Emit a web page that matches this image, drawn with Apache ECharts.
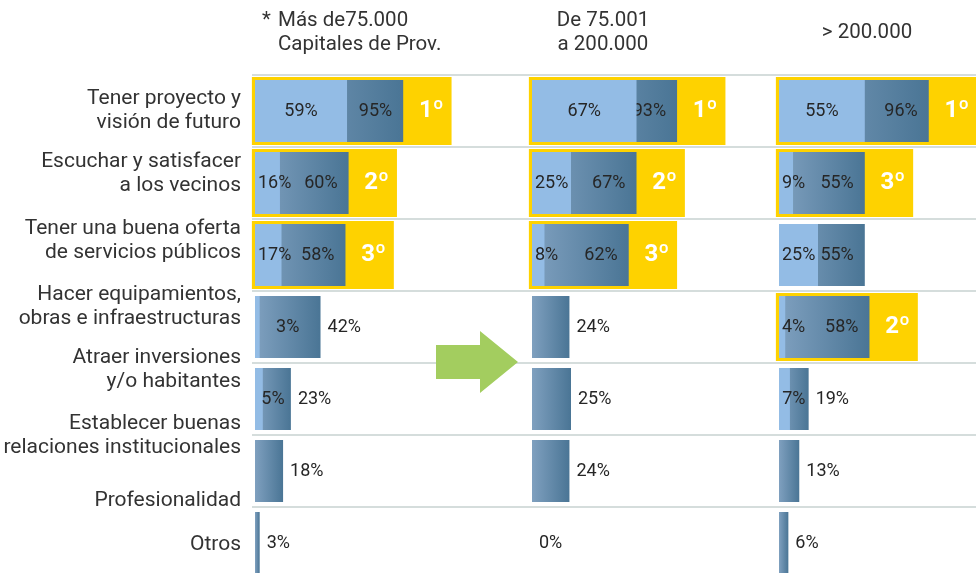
<!DOCTYPE html>
<html>
<head>
<meta charset="utf-8">
<script src="https://cdn.jsdelivr.net/npm/echarts@6/dist/echarts.min.js"></script>
<style>
  html, body { margin: 0; padding: 0; background: #fff; overflow: hidden; }
  #main { width: 976px; height: 584px; }
</style>
</head>
<body>
<div id="main"></div>
<script>
// textos de la izquierda (8 textos para 7 filas de barras, como en el original)
const categories = [
  'Tener proyecto y\nvisión de futuro',
  'Escuchar y satisfacer\na los vecinos',
  'Tener una buena oferta\nde servicios públicos',
  'Hacer equipamientos,\nobras e infraestructuras',
  'Atraer inversiones\ny/o habitantes',
  'Establecer buenas\nrelaciones institucionales',
  'Profesionalidad',
  'Otros'
]
const headers = ['Más de75.000\nCapitales de Prov.', 'De 75.001\na 200.000', '> 200.000']

// barra clara (null = no hay)
const light1 = [59, 16, 17, 3, 5, null, null]
const light2 = [67, 25, 8, null, null, null, null]
const light3 = [55, 9, 25, 4, 7, null, null]
// barra oscura
const dark1 = [95, 60, 58, 42, 23, 18, 3]
const dark2 = [93, 67, 62, 24, 25, 24, 0]
const dark3 = [96, 55, 55, 58, 19, 13, 6]
// puesto
const rank1 = [1, 2, 3, null, null, null, null]
const rank2 = [1, 2, 3, null, null, null, null]
const rank3 = [1, 3, null, 2, null, null, null]

// maquetacion
const panelLeft = [255, 532, 779]
const labelY = [111, 174, 241, 307, 370, 436, 501, 545]
const FONT = 'Roboto'

var chartDom = document.getElementById('main')
var myChart = echarts.init(chartDom)

const rows = dark1.map((v, i) => String(i))

function yellowSeries(p, dark, rank) {
  const data = []
  rank.forEach((r, i) => { if (r) data.push([i, dark[i], r]) })
  return {
    type: 'custom',
    xAxisIndex: p,
    yAxisIndex: p,
    z: 1,
    silent: true,
    clip: false,
    encode: { x: 1, y: 0 },
    data: data,
    renderItem: function(params, api) {
      const row = api.value(0)
      const d = api.value(1)
      const a = api.coord([-2, row])
      const b = api.coord([d + 31, row])
      const t = api.coord([d + 18, row])
      const h = api.size([0, 1])[1] * 68 / 72
      return {
        type: 'group',
        children: [
          {
            type: 'rect',
            shape: { x: a[0], y: a[1] - h / 2, width: b[0] - a[0], height: h },
            style: { fill: '#fed200' }
          },
          {
            type: 'text',
            style: {
              text: api.value(2) + 'º',
              x: t[0],
              y: t[1],
              fill: '#fff',
              font: 'bold 24px ' + FONT,
              align: 'center',
              verticalAlign: 'middle'
            }
          }
        ]
      }
    }
  }
}

function darkSeries(p, dark) {
  return {
    type: 'bar',
    xAxisIndex: p,
    yAxisIndex: p,
    z: 2,
    barWidth: 62,
    silent: true,
    itemStyle: {
      color: new echarts.graphic.LinearGradient(0, 0, 1, 0, [
        { offset: 0, color: '#7fa0bf' },
        { offset: 1, color: '#4a7595' }
      ])
    },
    label: { show: true, formatter: '{c}%', color: '#262626', fontSize: 18, fontFamily: FONT },
    data: dark.map(v => {
      const inside = v >= 50
      return { value: v, label: { position: inside ? 'insideRight' : 'right', distance: inside ? 11 : 7 } }
    })
  }
}

function lightSeries(p, light, dark) {
  return {
    type: 'bar',
    xAxisIndex: p,
    yAxisIndex: p,
    z: 3,
    barWidth: 62,
    barGap: '-100%',
    silent: true,
    itemStyle: { color: '#93bce5' },
    label: { show: true, formatter: '{c}%', color: '#262626', fontSize: 18, fontFamily: FONT },
    data: light.map((v, i) => {
      if (v == null) return { value: '-', label: { show: false } }
      let lab
      if (v >= 40) lab = { position: 'inside' }
      else if (dark[i] < 50) lab = { position: [(dark[i] / v * 50) + '%', '50%'], align: 'center', verticalAlign: 'middle' }
      else lab = { position: 'insideLeft', distance: 3 }
      return { value: v, label: lab }
    })
  }
}

const grids = panelLeft.map(l => ({ left: l, top: 75, width: 156, height: 504 }))
grids.push({ left: 252, right: 0, top: 75, height: 504 })

const xAxes = [0, 1, 2].map(p => ({ gridIndex: p, type: 'value', min: 0, max: 100, show: false }))
xAxes.push({ gridIndex: 3, type: 'value', min: 0, max: 1, show: false })

const yAxes = [0, 1, 2].map(p => ({ gridIndex: p, type: 'category', data: rows, inverse: true, show: false }))
yAxes.push({
  gridIndex: 3,
  type: 'category',
  data: rows,
  inverse: true,
  axisLine: { show: false },
  axisTick: { show: false },
  axisLabel: { show: false },
  splitLine: { show: true, lineStyle: { color: '#d5dddc', width: 2 } }
})

const graphics = categories.map((c, i) => ({
  type: 'text',
  x: 241,
  y: labelY[i],
  style: {
    text: c,
    font: '21px ' + FONT,
    fill: '#333',
    align: 'right',
    verticalAlign: 'middle',
    lineHeight: 24
  }
}))
const headFont = '20.5px ' + FONT
graphics.push(
  { type: 'text', x: 262, y: 21, style: { text: '*', font: headFont, fill: '#333', align: 'left', verticalAlign: 'middle' } },
  { type: 'text', x: 278, y: 33, style: { text: headers[0], font: headFont, fill: '#333', align: 'left', verticalAlign: 'middle', lineHeight: 24 } },
  { type: 'text', x: 603, y: 33, style: { text: headers[1], font: headFont, fill: '#333', align: 'center', verticalAlign: 'middle', lineHeight: 24 } },
  { type: 'text', x: 867, y: 33, style: { text: headers[2], font: headFont, fill: '#333', align: 'center', verticalAlign: 'middle', lineHeight: 24 } },
  {
    type: 'polygon',
    z: 100,
    shape: { points: [[436, 345], [480, 345], [480, 331], [518, 362], [480, 393], [480, 379], [436, 379]] },
    style: { fill: '#a3cd5f' }
  }
)

var option = {
  animation: false,
  textStyle: { fontFamily: FONT },
  grid: grids,
  xAxis: xAxes,
  yAxis: yAxes,
  graphic: graphics,
  series: [
    yellowSeries(0, dark1, rank1), darkSeries(0, dark1), lightSeries(0, light1, dark1),
    yellowSeries(1, dark2, rank2), darkSeries(1, dark2), lightSeries(1, light2, dark2),
    yellowSeries(2, dark3, rank3), darkSeries(2, dark3), lightSeries(2, light3, dark3)
  ]
}

myChart.setOption(option)
</script>
</body>
</html>
